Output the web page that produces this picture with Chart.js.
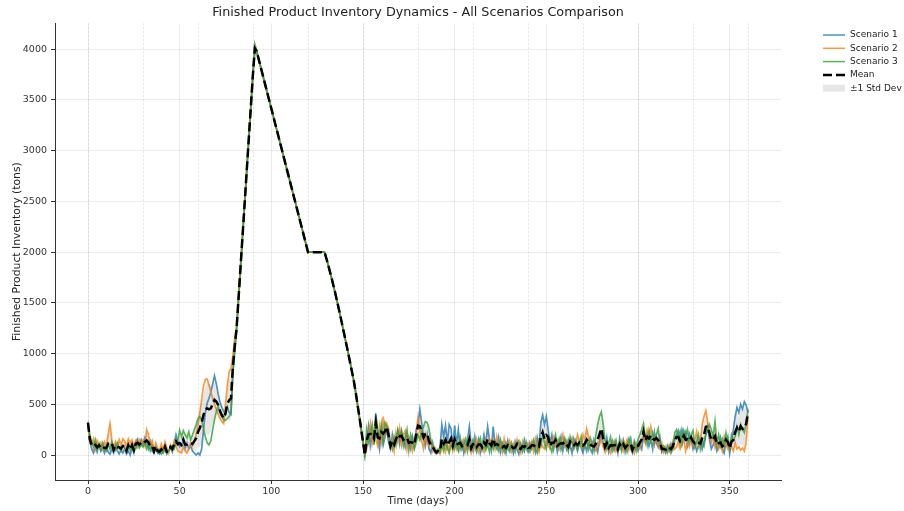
<!DOCTYPE html>
<html>
<head>
<meta charset="utf-8">
<script src="https://cdn.jsdelivr.net/npm/chart.js@4.4.1/dist/chart.umd.min.js"></script>
<style>
html,body{margin:0;padding:0;background:#ffffff;}
canvas{display:block;}
</style>
</head>
<body>
<canvas id="chart" width="904" height="511"></canvas>
<script>
// ---------------- DATA ----------------
const days = Array.from({length: 361}, (_, i) => i);

const scenario1 = [
  330,150,60,20,90,30,110,40,70,20,
  80,30,10,60,20,100,40,10,50,20,
  60,10,40,0,70,20,130,160,90,150,
  100,170,120,60,130,40,20,80,30,10,
  50,20,60,10,40,70,30,110,200,130,
  80,100,140,70,120,60,90,40,20,0,
  20,0,60,250,420,510,560,620,700,780,
  700,600,520,470,430,400,475,420,400,820,
  1050,1230,1500,1780,2060,2340,2620,2900,3180,3460,
  3740,3970,3965,3900,3830,3760,3690,3620,3550,3480,
  3410,3340,3268,3198,3128,3057,2987,2916,2845,2775,
  2704,2634,2563,2493,2422,2351,2281,2210,2140,2069,
  2000,2000,2000,2000,2000,2000,2000,2000,2000,2000,
  1940,1875,1805,1735,1660,1585,1505,1425,1340,1255,
  1170,1085,1000,910,820,730,620,500,380,255,
  130,
  0,120,280,90,200,150,410,180,60,240,
  100,180,250,120,60,200,90,150,230,110,
  240,160,80,200,130,60,180,90,250,300,
  450,320,180,90,200,60,20,120,30,10,
  20,70,300,180,290,120,300,260,80,290,
  100,250,60,130,20,90,150,280,100,40,
  180,60,150,20,90,200,110,280,150,50,
  280,100,60,170,30,120,80,20,140,60,
  90,20,130,60,10,110,40,150,70,30,
  120,60,100,30,170,80,320,395,300,380,
  250,120,200,60,150,30,100,180,40,130,
  60,150,90,20,160,100,40,130,70,20,
  100,40,130,60,20,150,90,30,140,200,
  120,60,170,30,90,140,50,110,20,160,
  70,130,30,100,160,60,20,140,90,40,
  110,60,180,130,200,90,150,60,220,120,
  80,170,30,60,20,90,40,110,60,150,
  200,240,120,250,180,230,100,210,150,60,
  120,40,90,160,60,130,200,280,150,60,
  100,150,40,90,170,60,20,130,180,15,
  120,250,380,470,420,500,450,525,490,420
];

const scenario2 = [
  310,120,100,160,60,140,80,120,60,130,
  90,200,310,150,60,130,70,150,100,160,
  140,80,160,120,150,90,140,80,150,110,
  150,90,250,200,90,140,60,120,70,40,
  110,50,130,70,20,100,60,140,90,40,
  30,20,80,40,20,60,120,90,140,200,
  300,420,550,680,745,750,690,620,560,500,
  450,400,360,330,310,500,680,820,855,980,
  1150,1260,1530,1810,2090,2370,2650,2940,3220,3500,
  3770,4010,3985,3912,3842,3770,3700,3629,3558,3487,
  3417,3346,3275,3205,3134,3063,2993,2922,2851,2780,
  2710,2639,2568,2498,2427,2356,2285,2215,2144,2073,
  2000,2000,2000,2000,2000,2000,2000,2000,2000,2000,
  1942,1877,1807,1737,1662,1587,1507,1427,1342,1257,
  1172,1087,1002,912,822,732,622,502,382,257,
  132,
  0,60,200,310,120,250,150,90,280,140,
  380,200,310,260,80,150,40,220,130,260,
  100,200,240,60,180,120,40,160,220,370,
  250,140,60,200,120,90,150,40,80,50,
  40,10,60,120,30,100,60,140,40,110,
  80,40,130,70,150,40,100,60,20,130,
  60,150,40,120,80,30,140,90,160,100,
  140,60,180,80,120,30,160,70,90,140,
  40,110,70,150,60,20,130,50,100,120,
  70,130,40,160,90,30,120,80,60,150,
  100,60,130,180,90,140,60,120,200,90,
  140,50,120,170,60,110,200,140,80,200,
  150,260,180,80,130,60,40,120,100,160,
  80,30,120,60,20,100,140,40,90,60,
  130,40,90,150,50,110,70,20,120,80,
  60,150,200,120,240,160,280,200,100,180,
  100,60,120,30,80,20,100,50,130,60,
  80,130,60,100,150,40,120,80,170,100,
  150,230,80,120,300,380,436,330,200,130,
  200,80,150,60,110,40,180,100,60,120,
  80,40,120,60,80,50,70,40,120,390
];

const scenario3 = [
  310,200,130,80,150,60,100,50,120,60,
  40,110,60,130,80,50,120,70,40,90,
  70,40,90,50,80,40,60,120,70,100,
  80,130,60,110,40,90,30,60,20,50,
  10,30,60,20,40,70,90,60,120,150,
  245,180,240,200,170,230,150,200,250,300,
  360,380,345,260,180,120,100,140,250,350,
  430,480,420,380,350,340,360,380,420,800,
  1000,1220,1510,1800,2080,2360,2640,2930,3210,3490,
  3780,4050,3990,3918,3846,3775,3703,3632,3561,3490,
  3420,3349,3278,3208,3137,3066,2996,2925,2854,2783,
  2713,2642,2571,2500,2430,2359,2288,2218,2147,2076,
  2000,2000,2000,2000,2000,2000,2000,2000,2000,2000,
  1938,1873,1803,1733,1658,1583,1503,1423,1338,1253,
  1168,1083,998,908,818,728,618,498,378,253,
  128,
  0,250,130,220,300,100,390,250,150,300,
  150,320,280,200,130,60,180,100,250,180,
  230,90,170,250,50,200,140,60,120,200,
  150,240,280,330,320,260,130,80,40,20,
  60,30,110,40,130,70,20,90,150,60,
  120,50,170,60,110,160,40,130,80,150,
  90,30,120,170,60,140,50,100,30,130,
  60,140,90,40,150,80,30,120,60,30,
  120,70,30,110,140,50,90,40,130,60,
  30,100,150,60,20,140,90,200,120,60,
  180,90,30,120,200,100,160,50,100,170,
  110,40,180,120,70,140,60,100,180,60,
  90,150,60,170,120,40,200,300,380,425,
  300,150,60,120,180,40,100,150,60,110,
  40,150,90,30,120,170,60,110,40,150,
  200,250,310,180,100,240,150,220,130,200,
  260,120,40,90,60,30,80,20,70,220,
  250,160,230,120,240,180,250,130,200,240,
  80,130,200,60,140,90,200,240,300,250,
  180,330,120,200,90,160,100,220,140,60,
  200,150,180,280,200,300,250,220,320,450
];

const seriesLabels = ['Scenario 1', 'Scenario 2', 'Scenario 3'];
const xTicks = [0, 50, 100, 150, 200, 250, 300, 350];
const yTicks = [0, 500, 1000, 1500, 2000, 2500, 3000, 3500, 4000];
const monthLines = [0, 30, 60, 90, 120, 150, 180, 210, 240, 270, 300, 330, 360];
const titleText = 'Finished Product Inventory Dynamics - All Scenarios Comparison';
const xTitle = 'Time (days)';
const yTitle = 'Finished Product Inventory (tons)';

// ---------------- DERIVED (mean / std of the three scenarios) ----------------
const allSeries = [scenario1, scenario2, scenario3];
const meanVals = days.map((_, i) => allSeries.reduce((s, a) => s + a[i], 0) / allSeries.length);
const stdVals = days.map((_, i) => {
  const m = meanVals[i];
  return Math.sqrt(allSeries.reduce((s, a) => s + (a[i] - m) * (a[i] - m), 0) / allSeries.length);
});
const upperVals = days.map((_, i) => meanVals[i] + stdVals[i]);
const lowerVals = days.map((_, i) => meanVals[i] - stdVals[i]);

// ---------------- CHART ----------------
const FONT = 'DejaVu Sans';
Chart.defaults.font.family = FONT;
const pts = arr => days.map((d, i) => ({x: d, y: arr[i]}));

const colors = ['rgba(31,119,180,0.8)', 'rgba(255,127,14,0.8)', 'rgba(44,160,44,0.8)'];
const bandColor = 'rgba(128,128,128,0.2)';
const LW = 1.7;

const datasets = [
  {label: 'Mean', data: pts(meanVals), borderColor: '#000000', borderWidth: 2.5, borderDash: [9, 4],
   pointRadius: 0, fill: false, order: 0, tension: 0},
  {label: '±1 Std Dev', data: pts(upperVals), borderColor: 'rgba(0,0,0,0)', borderWidth: 1,
   backgroundColor: bandColor, pointRadius: 0, fill: 2, order: 1, tension: 0},
  {label: 'lower', data: pts(lowerVals), borderColor: 'rgba(0,0,0,0)', borderWidth: 1,
   pointRadius: 0, fill: false, order: 1, tension: 0},
  {label: seriesLabels[2], data: pts(scenario3), borderColor: colors[2], borderWidth: LW, pointRadius: 0, fill: false, order: 2, tension: 0},
  {label: seriesLabels[1], data: pts(scenario2), borderColor: colors[1], borderWidth: LW, pointRadius: 0, fill: false, order: 3, tension: 0},
  {label: seriesLabels[0], data: pts(scenario1), borderColor: colors[0], borderWidth: LW, pointRadius: 0, fill: false, order: 4, tension: 0}
];

const monthLinePlugin = {
  id: 'monthLines',
  beforeDatasetsDraw(chart) {
    const {ctx, chartArea, scales} = chart;
    ctx.save();
    ctx.strokeStyle = 'rgba(150,150,150,0.25)';
    ctx.lineWidth = 1;
    ctx.setLineDash([2, 2]);
    monthLines.forEach(v => {
      const x = Math.round(scales.x.getPixelForValue(v)) + 0.5;
      ctx.beginPath();
      ctx.moveTo(x, chartArea.top);
      ctx.lineTo(x, chartArea.bottom);
      ctx.stroke();
    });
    ctx.restore();
  }
};

const sideLegend = {
  id: 'sideLegend',
  afterDraw(chart) {
    const {ctx, chartArea} = chart;
    const items = [
      {label: seriesLabels[0], type: 'line', color: colors[0], width: 1.5, dash: []},
      {label: seriesLabels[1], type: 'line', color: colors[1], width: 1.5, dash: []},
      {label: seriesLabels[2], type: 'line', color: colors[2], width: 1.5, dash: []},
      {label: 'Mean', type: 'line', color: '#000', width: 2.5, dash: [9, 4]},
      {label: '±1 Std Dev', type: 'box', color: bandColor}
    ];
    const x0 = chartArea.right + 42;
    const handleW = 22;
    let y = 35;
    ctx.save();
    ctx.font = '9px "' + FONT + '"';
    ctx.textBaseline = 'middle';
    items.forEach(it => {
      if (it.type === 'line') {
        ctx.strokeStyle = it.color;
        ctx.lineWidth = it.width;
        ctx.setLineDash(it.dash);
        ctx.beginPath();
        ctx.moveTo(x0, y);
        ctx.lineTo(x0 + handleW, y);
        ctx.stroke();
      } else {
        ctx.fillStyle = it.color;
        ctx.fillRect(x0, y - 3.5, handleW, 7);
      }
      ctx.setLineDash([]);
      ctx.fillStyle = '#222';
      ctx.fillText(it.label, x0 + handleW + 5, y);
      y += 13.3;
    });
    ctx.restore();
  }
};

new Chart(document.getElementById('chart'), {
  type: 'line',
  data: {datasets},
  options: {
    responsive: false,
    animation: false,
    devicePixelRatio: 1,
    layout: {padding: {left: 0, right: 123, top: 0, bottom: 0}},
    plugins: {
      legend: {display: false},
      tooltip: {enabled: false},
      title: {display: true, text: titleText, fullSize: false, color: '#222',
              font: {family: FONT, size: 12.75, weight: 'normal'}, padding: {top: 5, bottom: 3}}
    },
    scales: {
      x: {
        type: 'linear', min: -18, max: 378,
        afterBuildTicks: s => { s.ticks = xTicks.map(v => ({value: v})); },
        afterFit: s => { s.height = 31; },
        grid: {color: 'rgba(0,0,0,0.08)', lineWidth: 1, tickColor: '#333', tickLength: 4},
        border: {display: true, color: '#333', width: 1},
        ticks: {color: '#333', font: {family: FONT, size: 9.5}, padding: 2, maxRotation: 0, autoSkip: false,
                callback: v => String(v)},
        title: {display: true, text: xTitle, color: '#222', font: {family: FONT, size: 10.3}, padding: {top: 0, bottom: 3}}
      },
      y: {
        type: 'linear', min: -246, max: 4256,
        afterBuildTicks: s => { s.ticks = yTicks.map(v => ({value: v})); },
        afterFit: s => { s.width = 55; },
        grid: {color: 'rgba(0,0,0,0.08)', lineWidth: 1, tickColor: '#333', tickLength: 4},
        border: {display: true, color: '#333', width: 1},
        ticks: {color: '#333', font: {family: FONT, size: 9.5}, padding: 4, autoSkip: false,
                callback: v => String(v)},
        title: {display: true, text: yTitle, color: '#222', font: {family: FONT, size: 10.8}, padding: {top: 11, bottom: 0}}
      }
    }
  },
  plugins: [monthLinePlugin, sideLegend]
});
</script>
</body>
</html>
